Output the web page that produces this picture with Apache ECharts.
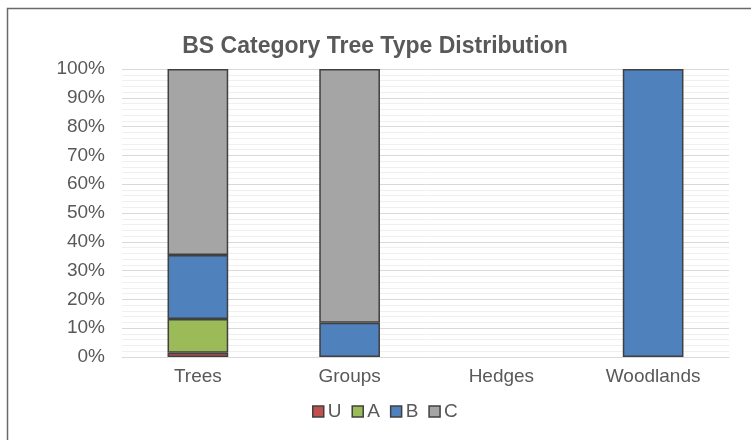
<!DOCTYPE html>
<html>
<head>
<meta charset="utf-8">
<script src="https://cdn.jsdelivr.net/npm/echarts@6/dist/echarts.min.js"></script>
<style>
  html, body { margin: 0; padding: 0; background: #fff; }
  #chart { width: 751px; height: 440px; }
</style>
</head>
<body>
<div id="chart"></div>
<script>
// categories and shares (%)
const categories = ['Trees', 'Groups', 'Hedges', 'Woodlands']
const uData = [1.5, 0, 0, 0]
const aData = [11.7, 0, 0, 0]
const bData = [22.2, 11.9, 0, 100]
const cData = [64.6, 88.1, 0, 0]
const yTicks = [0, 10, 20, 30, 40, 50, 60, 70, 80, 90, 100]

const textColor = '#595959'
const edge = '#404040'
const font = 'Liberation Sans, Arial, sans-serif'

const chart = echarts.init(document.getElementById('chart'))

function bar(name, data, color) {
  return {
    name: name,
    type: 'bar',
    stack: 'share',
    barWidth: '40%',
    // empty segments are not drawn at all (no border line)
    data: data.map(v => (v > 0 ? v : '-')),
    itemStyle: { color: color, borderColor: edge, borderWidth: 1.5 },
    emphasis: { disabled: true }
  }
}

chart.setOption({
  animation: false,
  textStyle: { fontFamily: font },
  title: {
    text: 'BS Category Tree Type Distribution',
    left: 370,
    textAlign: 'center',
    top: 30,
    textStyle: { fontSize: 23, fontWeight: 'bold', color: textColor, fontFamily: font }
  },
  graphic: [{
    type: 'rect',
    shape: { x: 7.5, y: 8.5, width: 760, height: 460 },
    style: { fill: 'none', stroke: '#6a6a6a', lineWidth: 1.5 },
    silent: true
  }],
  legend: {
    data: ['U', 'A', 'B', 'C'],
    top: 402,
    left: 312,
    padding: 0,
    itemWidth: 11,
    itemHeight: 11,
    itemGap: 10,
    icon: 'rect',
    textStyle: { fontSize: 19, color: textColor, padding: [0, 0, 0, -1] },
    itemStyle: { borderColor: edge, borderWidth: 1.5 }
  },
  grid: { left: 122, right: 22, top: 69, bottom: 83 },
  xAxis: {
    type: 'category',
    data: categories,
    axisLine: { lineStyle: { color: '#d9d9d9' } },
    axisTick: { show: false },
    axisLabel: { fontSize: 19, color: textColor, margin: 10 }
  },
  yAxis: {
    type: 'value',
    min: yTicks[0],
    max: yTicks[yTicks.length - 1],
    interval: 10,
    axisLine: { show: false },
    axisTick: { show: false },
    axisLabel: { fontSize: 19, color: textColor, margin: 17, formatter: '{value}%' },
    splitLine: { lineStyle: { color: '#d9d9d9', width: 1 } },
    minorTick: { show: false, splitNumber: 5 },
    minorSplitLine: { show: true, lineStyle: { color: '#efefef', width: 1 } }
  },
  series: [
    bar('U', uData, '#c0504d'),
    bar('A', aData, '#9bbb59'),
    bar('B', bData, '#4f81bd'),
    bar('C', cData, '#a5a5a5')
  ]
})
</script>
</body>
</html>
